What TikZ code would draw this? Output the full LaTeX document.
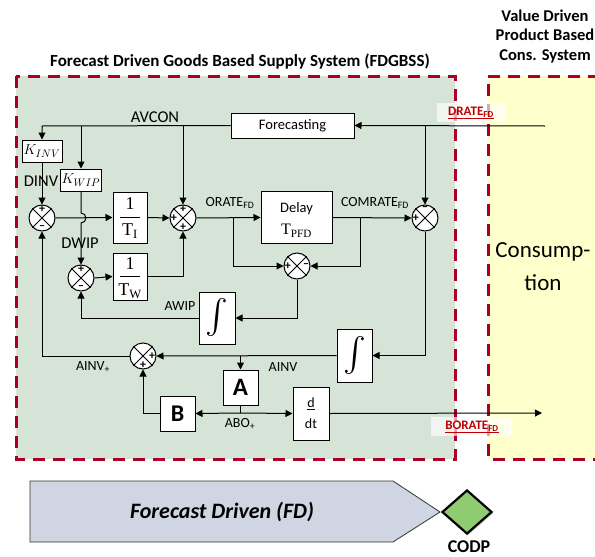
\documentclass[tikz,border=0pt]{standalone}
\usepackage{fontspec}
\usepackage{graphicx}
\setmainfont{Carlito}
\newfontfamily\serifT{Liberation Serif}
\usetikzlibrary{arrows.meta,shapes.geometric,calc,shadows}
\definecolor{fdgreen}{RGB}{213,228,215}
\definecolor{cyellow}{RGB}{255,255,204}
\definecolor{dred}{RGB}{170,0,40}
\definecolor{pentc}{RGB}{207,213,227}
\definecolor{codpc}{RGB}{143,204,112}
\definecolor{lblred}{RGB}{192,0,0}
\tikzset{
  ln/.style={line width=1pt},
  arr/.style={line width=1pt,-{Triangle[length=7pt,width=7pt]}},
  blk/.style={draw,fill=white,line width=1pt,inner sep=0pt},
  sumj/.style={circle,draw,fill=white,line width=1pt,minimum size=26pt,inner sep=0pt},
  sg/.style={font=\bfseries\fontsize{12}{12}\selectfont,inner sep=0pt},
  lbl/.style={font=\fontsize{14}{14}\selectfont,inner sep=0pt},
  biglbl/.style={font=\fontsize{16.5}{16.5}\selectfont,inner sep=0pt},
  redlbl/.style={font=\bfseries\fontsize{13}{13}\selectfont,text=lblred,inner sep=0pt},
  border/.style={draw=dred,line width=3pt,dash pattern=on 12pt off 8pt},
  hdr/.style={font=\bfseries\fontsize{16.5}{16.5}\selectfont,inner sep=0pt},
  serifbig/.style={font=\serifT\fontsize{18}{18}\selectfont,inner sep=0pt}
}
\newcommand{\crossj}[1]{\draw[ln] (#1.north west) -- (#1.south east) (#1.north east) -- (#1.south west);}
\newcommand{\sgn}[3]{\node[sg] at ($(#1)!0.68!(#1.#2)$) {#3};}
\newcommand{\integ}{\resizebox*{!}{38pt}{$\int$}}
\begin{document}
\begin{tikzpicture}[x=1pt,y=-1pt]
\useasboundingbox (0,0) rectangle (595,557);
% regions
\fill[fdgreen] (16,76) rectangle (455,459);
\fill[cyellow] (488,76) rectangle (600,459);
\draw[border] (16,76) rectangle (455,459);
\draw[border] (600,76) -- (488,76) -- (488,459) -- (600,459);
% headers
\node[hdr,font=\bfseries\fontsize{17}{17}\selectfont] (title) at (240,62) {Forecast Driven Goods Based Supply System (FDGBSS)};
\node[hdr] (h1) at (545,16) {Value Driven};
\node[hdr] (h2) at (545,35) {Product Based};
\node[hdr] (h3) at (545,56) {Cons. System};
\node[font=\fontsize{23}{23}\selectfont,inner sep=0pt] (cons1) at (543,252) {Consump-};
\node[font=\fontsize{23}{23}\selectfont,inner sep=0pt] (cons2) at (543,283) {tion};
% blocks
\node[blk,minimum width=123pt,minimum height=25pt,font=\fontsize{14.5}{14.5}\selectfont] (fc) at (292.5,125.5) {Forecasting};
\node[blk,minimum width=40pt,minimum height=22pt] (kinv) at (42,151) {\fontsize{15}{15}\selectfont$K_{INV}$};
\node[blk,minimum width=41pt,minimum height=22pt] (kwip) at (81,180) {\fontsize{15}{15}\selectfont$K_{WIP}$};
\node[blk,minimum width=34pt,minimum height=51pt] (ti) at (130,217.5) {};
\node[blk,minimum width=34pt,minimum height=47pt] (tw) at (130,276.5) {};
\foreach \b in {ti,tw}{\draw[ln] ($(\b.center)+(-10,0)$) -- ($(\b.center)+(10,0)$);}
\node[serifbig] (ti1) at (130,204) {1};
\node[serifbig] (ti2) at (130,231) {T\textsubscript{I}};
\node[serifbig] (tw1) at (130,264) {1};
\node[serifbig] (tw2) at (130,291) {T\textsubscript{W}};
\node[blk,minimum width=71pt,minimum height=52pt] (dl) at (296.5,217.5) {};
\node[font=\fontsize{14.5}{14.5}\selectfont,inner sep=0pt] (dl1) at (296.5,209) {Delay};
\node[serifbig,font=\serifT\fontsize{16}{16}\selectfont] (dl2) at (296.5,231) {T\textsubscript{PFD}};
\node[blk,minimum width=36pt,minimum height=52pt] (i1) at (217,318) {\integ};
\node[blk,minimum width=35pt,minimum height=53pt] (i2) at (354.5,355.5) {\integ};
\node[blk,minimum width=35pt,minimum height=35pt,font=\bfseries\fontsize{25}{25}\selectfont] (A) at (240.5,387.5) {A};
\node[blk,minimum width=35pt,minimum height=35pt,font=\bfseries\fontsize{24}{24}\selectfont] (B) at (177.5,413.5) {B};
\node[blk,minimum width=36pt,minimum height=53pt] (dd) at (311,413.5) {};
\node[font=\fontsize{14}{14}\selectfont,inner sep=0pt] (dd1) at (311,404) {\underline{d}};
\node[font=\fontsize{14}{14}\selectfont,inner sep=0pt] (dd2) at (311,424) {dt};
% summing junctions
\node[sumj] (s1) at (42,218) {};
\node[sumj] (s2) at (81,278) {};
\node[sumj] (s3) at (183,218) {};
\node[sumj] (s4) at (297,266) {};
\node[sumj] (s5) at (425,218) {};
\node[sumj] (s6) at (143,356) {};
\foreach \s in {s1,s2,s3,s4,s5,s6}{\crossj{\s}}
\sgn{s1}{north}{+}\sgn{s1}{south}{–}
\sgn{s2}{north}{+}\sgn{s2}{south}{–}
\sgn{s3}{north}{+}\sgn{s3}{west}{+}\sgn{s3}{south}{+}
\sgn{s4}{west}{+}\sgn{s4}{east}{–}
\sgn{s5}{north}{–}\sgn{s5}{west}{+}
\sgn{s6}{east}{+}\sgn{s6}{south}{+}
% coordinates
\coordinate (din) at (545,126);
\coordinate (bout) at (542,413);
% connectors
\draw[arr] (din) -- (fc.east);
\draw[arr] (425,126) -- (s5.north);
\draw[arr] (fc.west) -- (42,126) -- (kinv.north);
\draw[arr] (81,126) -- (kwip.north);
\draw[arr] (183,126) -- (s3.north);
\draw[arr] (kinv.south) -- (s1.north);
\draw[arr] (kwip.south) -- (81,213) arc[start angle=90,end angle=-90,radius=5pt] -- (s2.north);
\draw[arr] (s1.east) -- (ti.west);
\draw[arr] (ti.east) -- (s3.west);
\draw[arr] (s2.east) -- (tw.west);
\draw[arr] (tw.east) -| (s3.south);
\draw[arr] (s3.east) -- (dl.west);
\draw[arr] (233,218) |- (s4.west);
\draw[arr] (dl.east) -- (s5.west);
\draw[arr] (360,218) |- (s4.east);
\draw[arr] (s4.south) |- (i1.east);
\draw[arr] (i1.west) -| (s2.south);
\draw[arr] (s5.south) |- (i2.east);
\draw[arr] (i2.west) -- (s6.east);
\draw[arr] (240.5,356) -- (A.north);
\draw[ln] (A.south) -- (240.5,413);
\draw[arr] (240.5,413) -- (B.east);
\draw[arr] (240.5,413) -- (dd.west);
\draw[arr] (B.west) -| (s6.south);
\draw[arr] (s6.west) -| (s1.south);
\draw[arr] (dd.east) -- (bout);
% labels
\node[biglbl] (avcon) at (155,117) {AVCON};
\node[biglbl] (dinv) at (41,181) {DINV};
\node[biglbl] (dwip) at (80,243) {DWIP};
\node[lbl] (orate) at (230,203) {ORATE\textsubscript{FD}};
\node[lbl] (comrate) at (375,203) {COMRATE\textsubscript{FD}};
\node[lbl] (awip) at (180,306) {AWIP};
\node[lbl] (ainv) at (283,367) {AINV};
\node[lbl] (ainvp) at (93,367) {AINV\textsubscript{+}};
\node[lbl] (abo) at (240,424) {ABO\textsubscript{+}};
\fill[white,opacity=0.65] (437,103) rectangle (505,122);
\fill[white,opacity=0.65] (431,417) rectangle (512,436);
\node[redlbl] (drate) at (471,113) {\underline{DRATE\textsubscript{FD}}};
\node[redlbl] (borate) at (472,427) {\underline{BORATE\textsubscript{FD}}};
% bottom
\draw[fill=pentc,draw=black!80,line width=0.8pt] (30,481) -- (393,481) -- (440,512) -- (393,542) -- (30,542) -- cycle;
\node[font=\bfseries\itshape\fontsize{22}{22}\selectfont,inner sep=0pt] (fd) at (222,512) {Forecast Driven (FD)};
\node[diamond,draw,fill=codpc,line width=2.2pt,minimum width=50pt,minimum height=44pt,inner sep=0pt,drop shadow={opacity=0.35,shadow xshift=1.5pt,shadow yshift=-1.5pt}] (codp) at (467,512) {};
\node[font=\bfseries\fontsize{18}{18}\selectfont,inner sep=0pt] (codpl) at (469,547) {CODP};
\end{tikzpicture}
\end{document}
